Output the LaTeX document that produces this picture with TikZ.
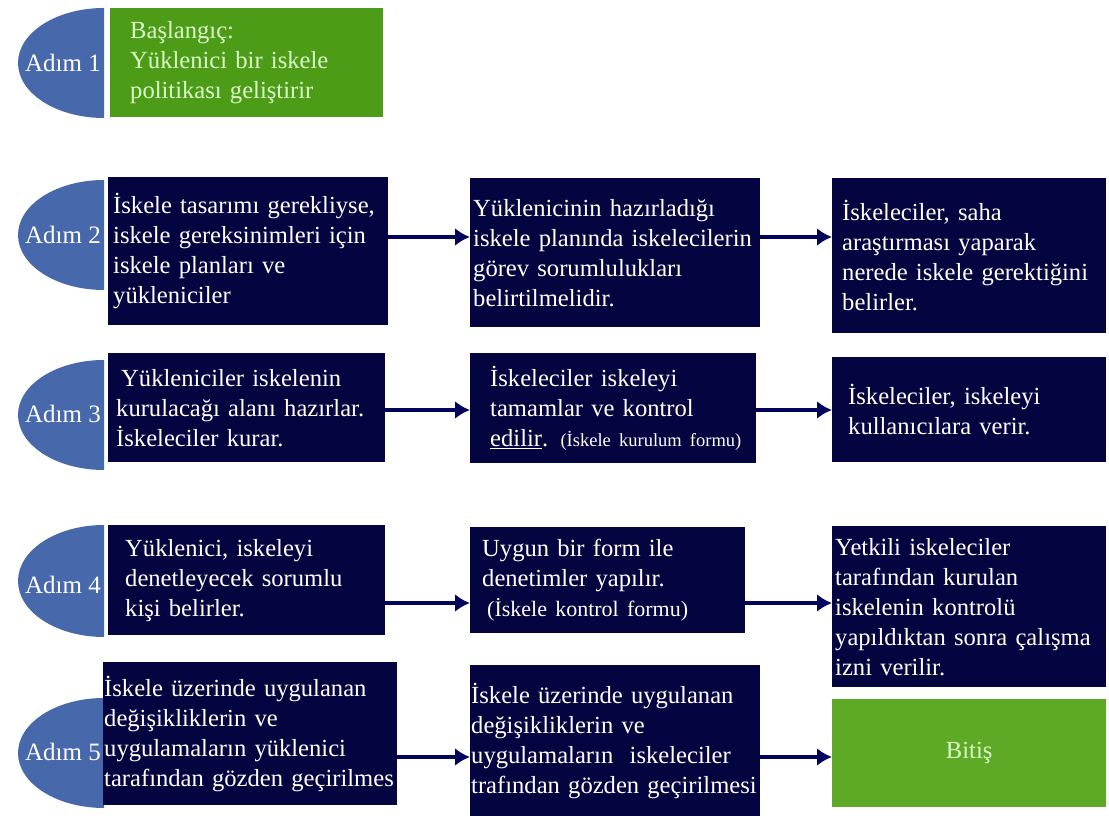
\documentclass[tikz,border=0pt]{standalone}
\usepackage{fontspec}
\setmainfont{Liberation Serif}
\usepackage{tikz}
\usetikzlibrary{arrows.meta}
\definecolor{stepblue}{RGB}{72,104,172}
\definecolor{navy}{RGB}{4,4,64}
\definecolor{leafgreen}{RGB}{76,156,24}
\definecolor{endgreen}{RGB}{94,170,38}
\definecolor{palegreen}{RGB}{220,250,200}

\begin{document}
\begin{tikzpicture}[x=1pt,y=1pt]

		\tikzset{
		    stepbox/.style={fill=navy, text=white, align=left, anchor=north west,
		        inner ysep=0pt, font=\fontsize{24.6}{30}\selectfont},
		    startbox/.style={stepbox, fill=leafgreen, text=palegreen},
		    endbox/.style={stepbox, fill=endgreen, text=palegreen, align=center},
		    steplabel/.style={text=white, inner sep=0pt, font=\fontsize{25}{30}\selectfont},
		    flow/.style={line width=4.5pt, navy!85!blue, -{Latex[length=15pt,width=18pt]}}
		}

		\useasboundingbox (0,0) rectangle (1109,816);

		% half discs of the steps

		\fill[stepblue] (104,808) arc[start angle=90, end angle=270, x radius=86, y radius=55] -- cycle;
		\fill[stepblue] (104,636) arc[start angle=90, end angle=270, x radius=86, y radius=55] -- cycle;
		\fill[stepblue] (104,456) arc[start angle=90, end angle=270, x radius=86, y radius=55] -- cycle;
		\fill[stepblue] (104,291) arc[start angle=90, end angle=270, x radius=86, y radius=56] -- cycle;
		\fill[stepblue] (104,118) arc[start angle=90, end angle=270, x radius=86, y radius=55] -- cycle;

		% boxes

		\node[startbox, minimum height=109pt, text width=233pt, inner xsep=20pt] (b1) at (110,808)
		    {Başlangıç:\\Yüklenici bir iskele\\politikası geliştirir};

		\node[stepbox, minimum height=148pt, text width=270pt, inner xsep=5pt] (b21) at (108,639)
		    {İskele tasarımı gerekliyse,\\iskele gereksinimleri için\\iskele planları ve\\yükleniciler};
		\node[stepbox, minimum height=149pt, text width=284pt, inner xsep=3pt] (b22) at (470,638)
		    {Yüklenicinin hazırladığı\\\mbox{iskele planında iskelecilerin}\\görev sorumlulukları\\belirtilmelidir.};
		\node[stepbox, minimum height=155pt, text width=254pt, inner xsep=10pt] (b23) at (832,638)
		    {İskeleciler, saha\\araştırması yaparak\\\mbox{nerede iskele gerektiğini}\\belirler.};

		\node[stepbox, minimum height=109pt, text width=261pt, inner xsep=8pt] (b31) at (108,463)
		    {\hspace*{5pt}Yükleniciler iskelenin\\kurulacağı alanı hazırlar.\\İskeleciler kurar.};
		\node[stepbox, minimum height=110pt, text width=270pt, inner xsep=8pt] (b32) at (470,463)
		    {\hspace*{12pt}İskeleciler iskeleyi\\\hspace*{12pt}tamamlar ve kontrol\\\mbox{\hspace*{12pt}\underline{edilir}. {\fontsize{18.5}{30}\selectfont(İskele kurulum formu)}}};
		\node[stepbox, minimum height=105pt, text width=242pt, inner xsep=16pt] (b33) at (832,459)
		    {İskeleciler, iskeleyi\\kullanıcılara verir.};

		\node[stepbox, minimum height=110pt, text width=243pt, inner xsep=17pt] (b41) at (108,291)
		    {Yüklenici, iskeleyi\\denetleyecek sorumlu\\kişi belirler.};
		\node[stepbox, minimum height=106pt, text width=251pt, inner xsep=12pt] (b42) at (470,289)
		    {Uygun bir form ile\\denetimler yapılır.\\\mbox{\fontsize{22}{30}\selectfont\hspace*{5pt}(İskele kontrol formu)}};
		\node[stepbox, minimum height=161pt, text width=268pt, inner xsep=3pt] (b43) at (832,290)
		    {Yetkili iskeleciler\\tarafından kurulan\\iskelenin kontrolü\\\mbox{yapıldıktan sonra çalışma}\\izni verilir.};

		\node[stepbox, minimum height=143pt, text width=292pt, inner xsep=1pt] (b51) at (103,154)
		    {İskele üzerinde uygulanan\\değişikliklerin ve\\uygulamaların yüklenici\\\mbox{tarafından gözden geçirilmes}};
		\node[stepbox, minimum height=151pt, text width=288pt, inner xsep=1pt] (b52) at (470,151)
		    {İskele üzerinde uygulanan\\değişikliklerin ve\\uygulamaların~ iskeleciler\\\mbox{trafından gözden geçirilmesi}};
		\node[endbox, minimum height=108pt, text width=274pt, inner xsep=0pt] (b6) at (832,117)
		    {Bitiş\\[4pt]};

		% step labels

		\node[steplabel] (l1) at (63,753) {Adım 1};
		\node[steplabel] (l2) at (63,581) {Adım 2};
		\node[steplabel] (l3) at (63,402) {Adım 3};
		\node[steplabel] (l4) at (63,231) {Adım 4};
		\node[steplabel] (l5) at (63,64) {Adım 5};

		% arrows between the boxes

		\coordinate (r2) at (0,579);
		\coordinate (r3) at (0,406);
		\coordinate (r4) at (0,213);
		\coordinate (r5) at (0,59);

		\draw[flow] (b21.east |- r2) -- (b22.west |- r2);
		\draw[flow] (b22.east |- r2) -- (b23.west |- r2);
		\draw[flow] (b31.east |- r3) -- (b32.west |- r3);
		\draw[flow] (b32.east |- r3) -- (b33.west |- r3);
		\draw[flow] (b41.east |- r4) -- (b42.west |- r4);
		\draw[flow] (b42.east |- r4) -- (b43.west |- r4);
		\draw[flow] (b51.east |- r5) -- (b52.west |- r5);
		\draw[flow] (b52.east |- r5) -- (b6.west |- r5);

\end{tikzpicture}
\end{document}
